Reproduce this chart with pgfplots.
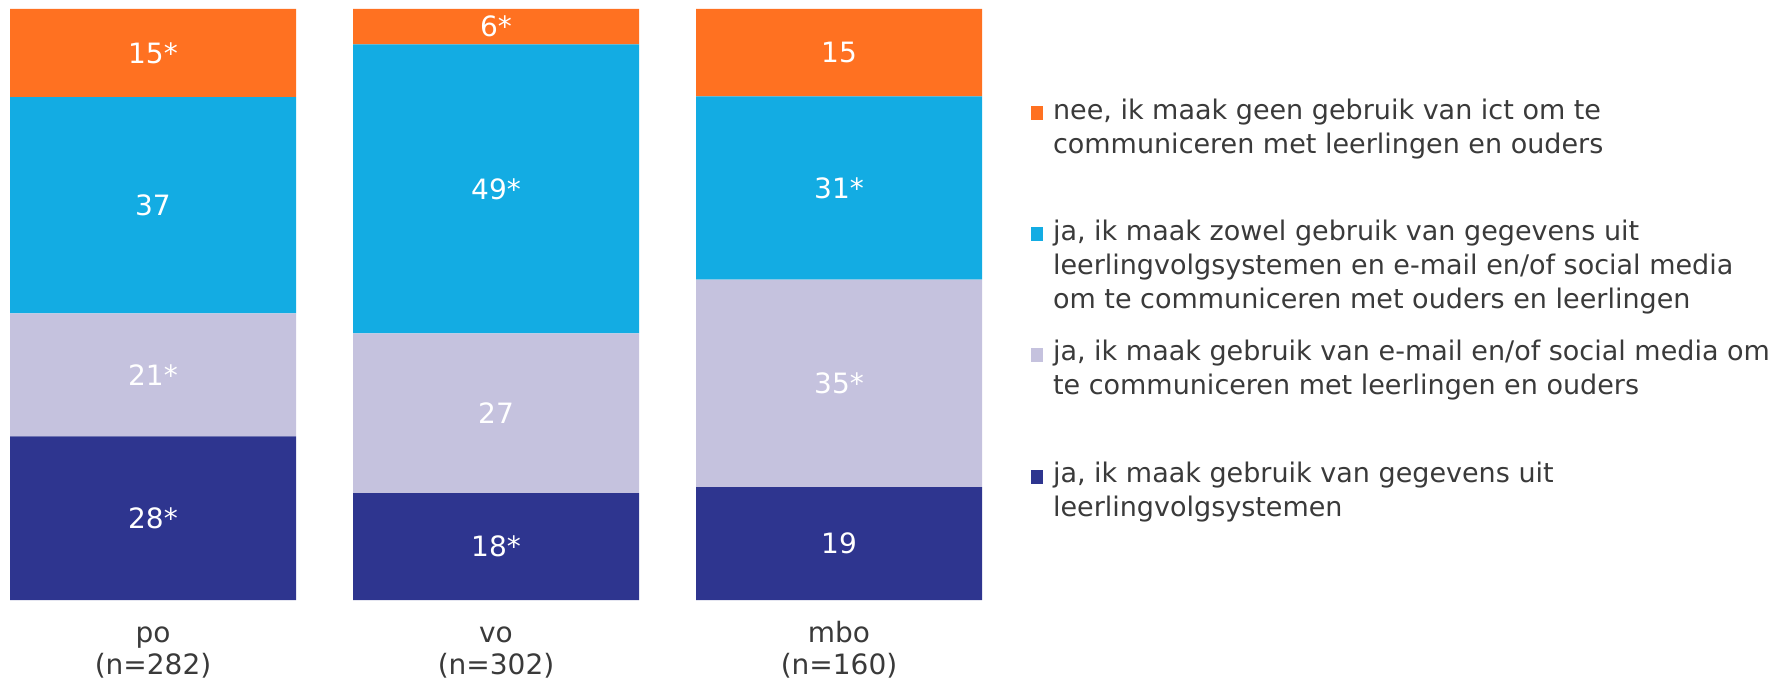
\documentclass[border=0pt]{standalone}
\usepackage{pgfplots}
\pgfplotsset{compat=1.18}
\usepackage{fontspec}
\setmainfont{DejaVu Sans}
\definecolor{cOr}{HTML}{FF7121}
\definecolor{cBl}{HTML}{13ACE3}
\definecolor{cLa}{HTML}{C5C2DE}
\definecolor{cDk}{HTML}{2E358F}
\definecolor{txt}{HTML}{3A3A3A}
\pgfplotsset{
  legend image code/.code={\fill[#1] (0bp,-0.5bp) rectangle (6bp,6.5bp); \path (11bp,0bp);},
  frame/.style={at={(1.04bp,41bp)}, anchor=south west,
    scale only axis, width=493.92bp, height=295.5bp,
    xmin=-0.44, xmax=2.44, ymin=0, ymax=100, clip=false},
  legax/.style={frame, hide axis, legend cell align=left,
    legend style={anchor=north west, draw=none, fill=none,
      font=\fontsize{13.5bp}{17bp}\selectfont, text=txt, row sep=0pt, inner sep=0pt, outer sep=0pt,
      nodes={inner sep=0pt}, cells={anchor=base west}}},
}
\begin{document}
\begin{tikzpicture}
\path[use as bounding box] (0,0) rectangle (892.5bp,341bp);
\begin{axis}[
  frame,
  ybar stacked, bar width=143bp,
  axis line style={draw=none},
  ytick=\empty,
  xtick={0,1,2},
  xticklabels={{po\\(n=282)},{vo\\(n=302)},{mbo\\(n=160)}},
  typeset ticklabels with strut,
  xticklabel style={align=center, font=\fontsize{14bp}{16bp}\selectfont, text=txt, inner sep=0pt, anchor=north, yshift=-9.6bp},
  major tick length=0pt,
  tick style={draw=none},
]
\addplot[fill=cDk, draw=none] coordinates {(0,27.7) (1,18.1) (2,19.1)};
\addplot[fill=cLa, draw=none] coordinates {(0,20.8) (1,27.0) (2,35.1)};
\addplot[fill=cBl, draw=none] coordinates {(0,36.6) (1,48.9) (2,31.0)};
\addplot[fill=cOr, draw=none] coordinates {(0,14.9) (1,6.0) (2,14.8)};
\end{axis}
\begin{axis}[frame, hide axis]
\addplot[draw=none, mark=none, nodes near coords, point meta=explicit symbolic,
  every node near coord/.style={anchor=center, text=white, font=\fontsize{14bp}{16bp}\selectfont, inner sep=0pt}]
  table[meta=lab] {
x y lab
0 13.85 28*
0 38.1 21*
0 66.8 37
0 92.55 15*
1 9.05 18*
1 31.6 27
1 69.55 49*
1 97.0 6*
2 9.55 19
2 36.65 35*
2 69.7 31*
2 92.6 15
};
\end{axis}
\begin{axis}[legax, legend style={at={(1.0416,0.848)}}]
\addlegendimage{fill=cOr, draw=none}
\addlegendentry{\parbox[t]{370bp}{\raggedright nee, ik maak geen gebruik van ict om te\\communiceren met leerlingen en ouders}}
\end{axis}
\begin{axis}[legax, legend style={at={(1.0416,0.6436)}}]
\addlegendimage{fill=cBl, draw=none}
\addlegendentry{\parbox[t]{370bp}{\raggedright ja, ik maak zowel gebruik van gegevens uit\\leerlingvolgsystemen en e-mail en/of social media\\om te communiceren met ouders en leerlingen}}
\end{axis}
\begin{axis}[legax, legend style={at={(1.0416,0.4392)}}]
\addlegendimage{fill=cLa, draw=none}
\addlegendentry{\parbox[t]{370bp}{\raggedright ja, ik maak gebruik van e-mail en/of social media om\\te communiceren met leerlingen en ouders}}
\end{axis}
\begin{axis}[legax, legend style={at={(1.0416,0.2331)}}]
\addlegendimage{fill=cDk, draw=none}
\addlegendentry{\parbox[t]{370bp}{\raggedright ja, ik maak gebruik van gegevens uit\\leerlingvolgsystemen}}
\end{axis}
\end{tikzpicture}
\end{document}
